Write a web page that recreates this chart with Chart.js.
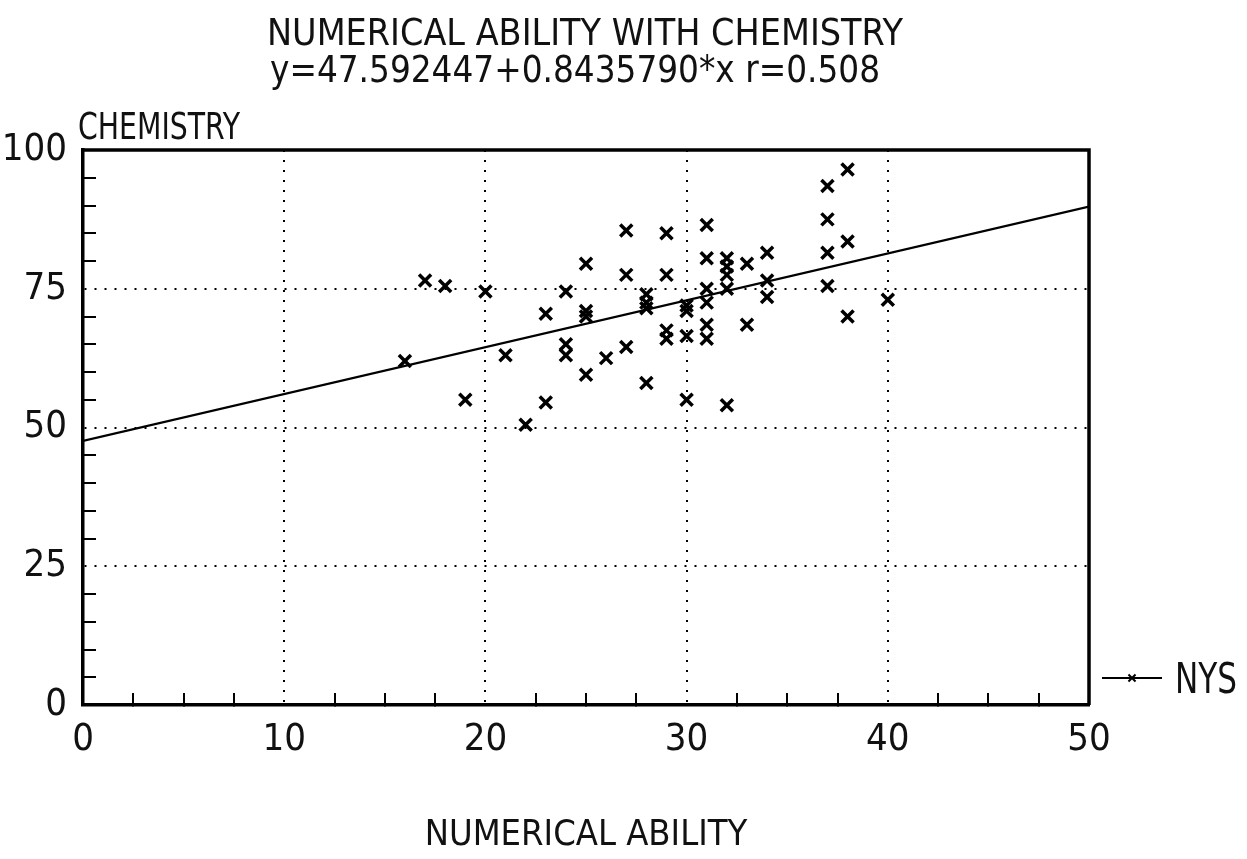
<!DOCTYPE html>
<html>
<head>
<meta charset="utf-8">
<script src="https://cdn.jsdelivr.net/npm/chart.js@4.4.1/dist/chart.umd.min.js"></script>
<style>
  html, body { margin: 0; padding: 0; background: #fff; }
  #wrap { width: 1247px; height: 859px; }
</style>
</head>
<body>
<div id="wrap"><canvas id="chart" width="1247" height="859"></canvas></div>
<script>
// Scores (x = numerical ability, y = chemistry)
const numericalAbility = [
  16, 17, 18, 19, 20, 21, 22, 23, 23, 24, 24, 24, 25, 25, 25, 25, 26, 27, 27, 27,
  28, 28, 28, 28, 29, 29, 29, 29, 30, 30, 30, 30, 31, 31, 31, 31, 31, 31, 32, 32,
  32, 32, 32, 33, 33, 34, 34, 34, 37, 37, 37, 37, 38, 38, 38, 40
];
const chemistry = [
  62, 76.5, 75.5, 55, 74.5, 63, 50.5, 70.5, 54.5, 74.5, 65, 63, 79.5, 71, 70, 59.5, 62.5, 85.5, 77.5, 64.5,
  74, 72.5, 71.5, 58, 85, 77.5, 67.5, 66, 72, 71, 66.5, 55, 86.5, 80.5, 75, 72.5, 68.5, 66, 80.5, 79,
  77.5, 75, 54, 79.5, 68.5, 81.5, 76.5, 73.5, 93.5, 87.5, 81.5, 75.5, 96.5, 83.5, 70, 73
];

// Fitted line end points (x = 0 and x = 50)
const fitX = [0, 50];
const fitY = [47.6, 89.8];

const xLabels = [0, 10, 20, 30, 40, 50];
const yLabels = [0, 25, 50, 75, 100];

const titleLines = ['NUMERICAL ABILITY WITH CHEMISTRY', 'y=47.592447+0.8435790*x r=0.508'];
const seriesName = 'NYS';

const FONT = '"Liberation Sans Narrow", "DejaVu Sans Condensed", sans-serif';
const INK = '#111';

// draw text squeezed / stretched to a given width, like the plotter lettering
function plotterText(ctx, text, cx, cy, width, size) {
  ctx.save();
  ctx.font = size + 'px ' + FONT;
  ctx.fillStyle = INK;
  ctx.textAlign = 'center';
  ctx.textBaseline = 'middle';
  const w = ctx.measureText(text).width;
  ctx.translate(cx, cy);
  ctx.scale(width / w, 1);
  ctx.fillText(text, 0, 0);
  ctx.restore();
}

const frameAndText = {
  id: 'frameAndText',
  afterDraw(chart) {
    const ctx = chart.ctx;
    const a = chart.chartArea;

    // top and right sides of the frame
    ctx.save();
    ctx.strokeStyle = '#000';
    ctx.lineWidth = 3.5;
    ctx.beginPath();
    ctx.moveTo(a.left, a.top);
    ctx.lineTo(a.right, a.top);
    ctx.lineTo(a.right, a.bottom);
    ctx.stroke();
    ctx.restore();

    plotterText(ctx, titleLines[0], 585, 35, 636, 37);
    plotterText(ctx, titleLines[1], 575, 72, 610, 37);
    plotterText(ctx, 'CHEMISTRY', 159, 129, 162, 37);

    // legend entry
    const ly = a.bottom - 27;
    ctx.save();
    ctx.strokeStyle = '#000';
    ctx.lineWidth = 2;
    ctx.beginPath();
    ctx.moveTo(a.right + 13, ly);
    ctx.lineTo(a.right + 73, ly);
    ctx.stroke();
    Chart.helpers.drawPoint(ctx, { pointStyle: 'crossRot', radius: 5, borderWidth: 2.5, rotation: 0 }, a.right + 43, ly);
    ctx.restore();
    plotterText(ctx, seriesName, a.right + 117, ly + 4, 62, 42);
  }
};

const points = numericalAbility.map((x, i) => ({ x: x, y: chemistry[i] }));
const fitLine = fitX.map((x, i) => ({ x: x, y: fitY[i] }));

const clear = 'rgba(0,0,0,0)';

new Chart(document.getElementById('chart'), {
  type: 'scatter',
  data: {
    datasets: [
      {
        label: seriesName,
        data: points,
        pointStyle: 'crossRot',
        pointRadius: 8.5,
        pointBorderWidth: 3.5,
        borderColor: '#000',
        backgroundColor: '#000'
      },
      {
        label: 'fit',
        data: fitLine,
        showLine: true,
        pointRadius: 0,
        borderColor: '#000',
        borderWidth: 2.2
      }
    ]
  },
  options: {
    responsive: false,
    animation: false,
    layout: { padding: { left: 0, right: 158, top: 150, bottom: 0 } },
    plugins: {
      legend: { display: false },
      title: { display: false },
      tooltip: { enabled: false }
    },
    scales: {
      x: {
        type: 'linear',
        min: 0,
        max: 50,
        afterFit: s => { s.height = 154; },
        ticks: {
          stepSize: 2.5,
          autoSkip: false,
          maxRotation: 0,
          padding: 24,
          color: INK,
          font: { family: FONT, size: 38 },
          callback: v => (xLabels.includes(v) ? String(v) : '')
        },
        grid: {
          color: c => (c.tick && c.tick.value % 10 === 0 && c.tick.value > 0 && c.tick.value < 50 ? '#000' : clear),
          lineWidth: 2,
          tickLength: -12,
          tickWidth: 2,
          tickColor: c => (c.tick && c.tick.value % 10 !== 0 ? '#000' : clear)
        },
        border: { color: '#000', width: 3.5, dash: [2, 8] },
        title: {
          display: true,
          text: 'NUMERICAL ABILITY',
          color: INK,
          font: { family: FONT, size: 36 },
          padding: { top: 0, bottom: 2 }
        }
      },
      y: {
        type: 'linear',
        min: 0,
        max: 100,
        afterFit: s => { s.width = 83; },
        ticks: {
          stepSize: 5,
          autoSkip: false,
          padding: 29,
          color: INK,
          font: { family: FONT, size: 38 },
          callback: v => (yLabels.includes(v) ? String(v) : '')
        },
        grid: {
          color: c => (c.tick && c.tick.value % 25 === 0 && c.tick.value > 0 && c.tick.value < 100 ? '#000' : clear),
          lineWidth: 2,
          tickLength: -13,
          tickWidth: 2,
          tickColor: c => (c.tick && c.tick.value % 25 !== 0 ? '#000' : clear)
        },
        border: { color: '#000', width: 3.5, dash: [2, 8] }
      }
    }
  },
  plugins: [frameAndText]
});
</script>
</body>
</html>
